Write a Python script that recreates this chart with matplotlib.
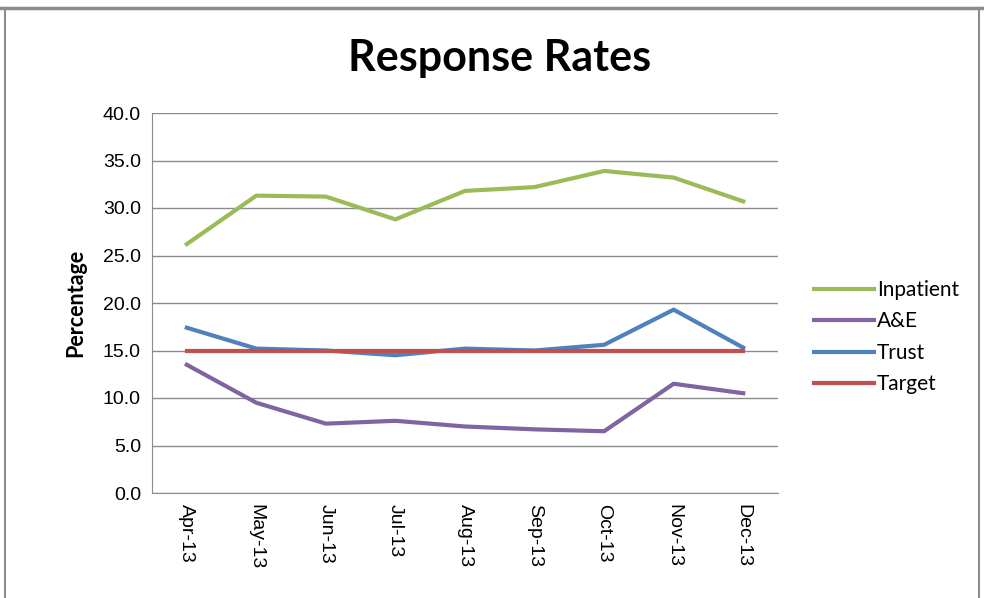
import matplotlib
matplotlib.use('Agg')
import matplotlib.pyplot as plt
from matplotlib.lines import Line2D

# monthly response rates (%)
months = ["Apr-13", "May-13", "Jun-13", "Jul-13", "Aug-13", "Sep-13", "Oct-13", "Nov-13", "Dec-13"]
inpatient = [26.2, 31.3, 31.2, 28.8, 31.8, 32.2, 33.9, 33.2, 30.7]
ae = [13.5, 9.5, 7.3, 7.6, 7.0, 6.7, 6.5, 11.5, 10.5]
trust = [17.4, 15.2, 15.0, 14.5, 15.2, 15.0, 15.6, 19.3, 15.3]
target = [15.0] * len(months)

fig = plt.figure(figsize=(9.84, 5.98), dpi=100)
ax = fig.add_axes([152 / 984, 1 - 493 / 598, 626 / 984, 380 / 598])

x = range(len(months))
ax.plot(x, inpatient, color="#9BBB59", lw=3, label="Inpatient", zorder=3)
ax.plot(x, ae, color="#8064A2", lw=3, label="A&E", zorder=3)
ax.plot(x, trust, color="#4F81BD", lw=3, label="Trust", zorder=3)
ax.plot(x, target, color="#C0504D", lw=3, label="Target", zorder=4)

ax.set_xlim(-0.5, len(months) - 0.5)
ax.set_ylim(0, 40)
ax.set_yticks(range(0, 41, 5))
ax.set_yticklabels([f"{v:.1f}" for v in range(0, 41, 5)], fontsize=14, family="Liberation Sans")
ax.set_xticks(list(x))
ax.set_xticklabels(months, rotation=270, fontsize=14, family="Liberation Sans")
ax.tick_params(length=0, pad=8)
ax.grid(axis="y", color="#8C8C8C", lw=1)
ax.set_axisbelow(True)
for s in ["top", "right"]:
    ax.spines[s].set_visible(False)
ax.spines["left"].set_color("#8C8C8C")
ax.spines["bottom"].set_color("#8C8C8C")

ax.set_ylabel("Percentage", fontsize=15.5, fontweight="bold", family="Lato", labelpad=12)
fig.text(0.508, 0.903, "Response Rates", ha="center", va="center",
         fontsize=31, fontweight="bold", family="Lato")

leg = ax.legend(loc="center left", bbox_to_anchor=(1.027, 0.41), frameon=False,
                prop={"family": "Lato", "size": 15}, handlelength=2.9,
                handletextpad=0.15, labelspacing=0.55)

# outer chart frame
fig.add_artist(Line2D([0, 1], [1 - 8 / 598] * 2, color="#8C8C8C", lw=2.5))
fig.add_artist(Line2D([5 / 984] * 2, [0, 1 - 8 / 598], color="#8C8C8C", lw=1.5))
fig.add_artist(Line2D([979 / 984] * 2, [0, 1 - 8 / 598], color="#8C8C8C", lw=1.5))

fig.savefig("out.png", dpi=100)
